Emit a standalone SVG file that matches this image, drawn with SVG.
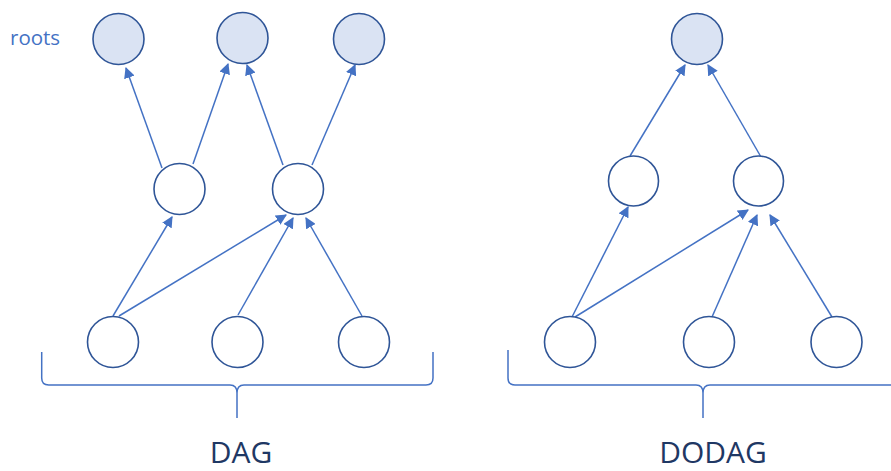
<svg xmlns="http://www.w3.org/2000/svg" width="891" height="471" viewBox="0 0 891 471">
  <defs>
    <marker id="arrow" viewBox="0 0 10 10" refX="9" refY="5" markerWidth="11" markerHeight="11" markerUnits="userSpaceOnUse" orient="auto">
      <path d="M0,0 L10,5 L0,10 z" fill="#4472c4"/>
    </marker>
    <style>
      .node { fill: #ffffff; stroke: #2f5597; stroke-width: 1.6; }
      .root { fill: #dae3f3; stroke: #2f5597; stroke-width: 1.6; }
      .edge { stroke: #4472c4; stroke-width: 1.5; fill: none; marker-end: url(#arrow); }
      .brace { stroke: #4472c4; stroke-width: 1.5; fill: none; }
      .label { font-family: "Open Sans", "Liberation Sans", sans-serif; }
      .title { font-family: "Open Sans", "Liberation Sans", sans-serif; font-size: 30px; fill: #1f3864; text-anchor: middle; }
    </style>
  </defs>
  <rect width="891" height="471" fill="#ffffff"/>

  <text class="label" x="10" y="45" font-size="20.5" fill="#4472c4">roots</text>

  <!-- DAG connectors -->
  <g id="dag-edges">
    <line class="edge" x1="162" y1="168" x2="126" y2="68"/>
    <line class="edge" x1="193" y1="164" x2="228" y2="64"/>
    <line class="edge" x1="283" y1="165" x2="247" y2="65"/>
    <line class="edge" x1="312" y1="165" x2="355" y2="65"/>
    <line class="edge" x1="113" y1="316" x2="172" y2="217"/>
    <line class="edge" x1="119" y1="316" x2="286" y2="215"/>
    <line class="edge" x1="238" y1="315" x2="293" y2="218"/>
    <line class="edge" x1="362" y1="316" x2="306" y2="218"/>
  </g>

  <!-- DAG nodes -->
  <g id="dag-root-1"><circle class="root" cx="118.5" cy="39" r="25.5"/></g>
  <g id="dag-root-2"><circle class="root" cx="242.5" cy="38" r="25.5"/></g>
  <g id="dag-root-3"><circle class="root" cx="359" cy="39" r="25.5"/></g>
  <g id="dag-mid-1"><circle class="node" cx="179.5" cy="189" r="25.5"/></g>
  <g id="dag-mid-2"><circle class="node" cx="298" cy="189" r="25.5"/></g>
  <g id="dag-leaf-1"><circle class="node" cx="113" cy="342" r="25.5"/></g>
  <g id="dag-leaf-2"><circle class="node" cx="237.5" cy="342" r="25.5"/></g>
  <g id="dag-leaf-3"><circle class="node" cx="364" cy="342" r="25.5"/></g>

  <g id="dag-brace">
    <path class="brace" d="M41.7,352 L41.7,378 Q41.7,385 48.7,385 L230,385 Q237,385 237,393 L237,418 M237,393 Q237,385 244,385 L426,385 Q433,385 433,378 L433,352"/>
  </g>
  <text class="title" x="241" y="463">DAG</text>

  <!-- DODAG connectors -->
  <g id="dodag-edges">
    <line class="edge" x1="630" y1="156" x2="685" y2="65"/>
    <line class="edge" x1="761" y1="157" x2="708" y2="65"/>
    <line class="edge" x1="572" y1="317" x2="628" y2="207"/>
    <line class="edge" x1="575" y1="317" x2="748" y2="210"/>
    <line class="edge" x1="712" y1="317" x2="757" y2="215"/>
    <line class="edge" x1="832" y1="317" x2="770" y2="215"/>
  </g>

  <!-- DODAG nodes -->
  <g id="dodag-root"><circle class="root" cx="697" cy="39" r="25.5"/></g>
  <g id="dodag-mid-1"><circle class="node" cx="633.5" cy="181" r="25"/></g>
  <g id="dodag-mid-2"><circle class="node" cx="758.5" cy="181" r="25"/></g>
  <g id="dodag-leaf-1"><circle class="node" cx="570" cy="342" r="25.5"/></g>
  <g id="dodag-leaf-2"><circle class="node" cx="709" cy="342" r="25.5"/></g>
  <g id="dodag-leaf-3"><circle class="node" cx="836.5" cy="342" r="25.5"/></g>

  <g id="dodag-brace">
    <path class="brace" d="M508,350 L508,378 Q508,385 515,385 L696,385 Q703,385 703,393 L703,418 M703,393 Q703,385 710,385 L895,385"/>
  </g>
  <text class="title" x="713" y="463">DODAG</text>
</svg>
